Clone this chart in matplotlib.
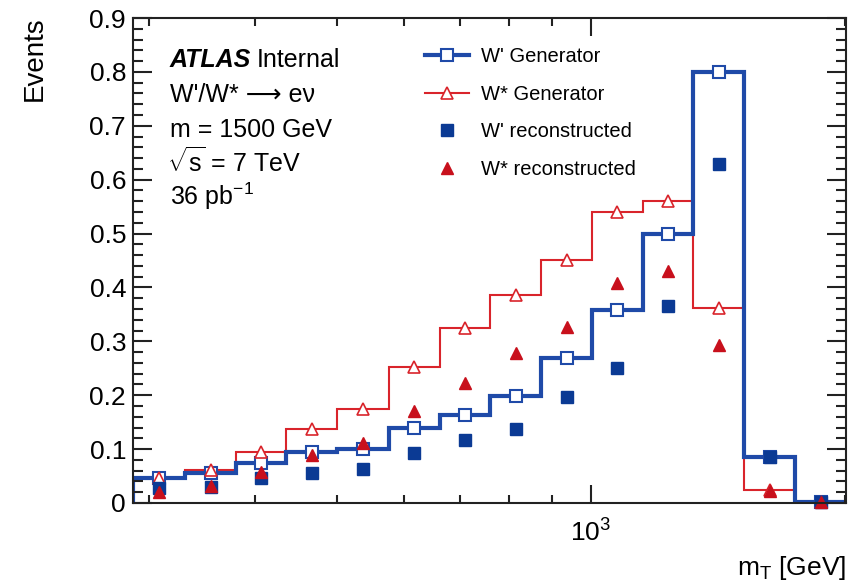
import numpy as np
import matplotlib
matplotlib.use("Agg")
from matplotlib import pyplot as plt
from matplotlib.lines import Line2D

plt.rcParams['font.family'] = ['Liberation Sans', 'DejaVu Sans']
plt.rcParams['mathtext.fontset'] = 'custom'
plt.rcParams['mathtext.rm'] = 'Liberation Sans'
plt.rcParams['mathtext.it'] = 'Liberation Sans:italic'
plt.rcParams['mathtext.bf'] = 'Liberation Sans:bold'

# bin edges in m_T [GeV] (log spaced bins)
edges = [287, 331, 380, 436, 501, 576, 663, 760, 873, 1003, 1151, 1322, 1519, 1745, 2004]

wprime_gen = [0.047, 0.055, 0.075, 0.094, 0.101, 0.140, 0.163, 0.199, 0.270, 0.358,
              0.500, 0.799, 0.086, 0.001]
wstar_gen = [0.046, 0.061, 0.094, 0.137, 0.174, 0.253, 0.325, 0.386, 0.451, 0.540,
             0.560, 0.361, 0.025, 0.002]
wprime_reco = [0.027, 0.030, 0.047, 0.056, 0.063, 0.092, 0.116, 0.137, 0.197, 0.251,
               0.365, 0.630, 0.086, 0.002]
wstar_reco = [0.021, 0.032, 0.057, 0.089, 0.111, 0.170, 0.223, 0.279, 0.327, 0.408,
              0.431, 0.293, 0.022, 0.001]

blue = '#1f4aa8'
blue_dark = '#0b3a94'
red = '#d9242b'
red_dark = '#c8101c'

fig = plt.figure(figsize=(8.62, 5.88), dpi=100)
ax = fig.add_axes([133/862, 85/588, 713/862, 485/588])

edges_a = np.array(edges, dtype=float)
centers = np.sqrt(edges_a[:-1] * edges_a[1:])

ax.stairs(wstar_gen, edges_a, color=red, lw=1.5, baseline=0)
ax.stairs(wprime_gen, edges_a, color=blue, lw=3, baseline=0)

ax.plot(centers, wprime_gen, ls='none', marker='s', ms=9, mfc='white', mec=blue,
        mew=1.5, clip_on=False)
ax.plot(centers, wstar_gen, ls='none', marker='^', ms=9, mfc='white', mec=red,
        mew=1.2, clip_on=False)
ax.plot(centers, wprime_reco, ls='none', marker='s', ms=9, color=blue_dark, clip_on=False)
ax.plot(centers, wstar_reco, ls='none', marker='^', ms=8, color=red_dark, clip_on=False)

ax.set_xscale('log')
ax.set_xlim(edges_a[0], edges_a[-1])
ax.set_ylim(0, 0.9)
ax.set_yticks(np.arange(0, 0.91, 0.1))
ax.set_yticks(np.arange(0, 0.9, 0.02), minor=True)
ax.set_yticklabels(['0', '0.1', '0.2', '0.3', '0.4', '0.5', '0.6', '0.7', '0.8', '0.9'])
ax.xaxis.set_minor_formatter(matplotlib.ticker.NullFormatter())

ax.tick_params(which='both', direction='in', top=True, right=True, labelsize=19,
               width=1.5, color='#222222')
ax.tick_params(axis='y', which='major', length=14, pad=5)
ax.tick_params(axis='y', which='minor', length=7)
ax.tick_params(axis='x', which='major', length=13, pad=12)
ax.tick_params(axis='x', which='minor', length=6)
for s in ax.spines.values():
    s.set_linewidth(1.5)
    s.set_color('#222222')

fig.text(35/862, 1 - 16/588, 'Events', rotation=90, ha='center', va='top', fontsize=20)
fig.text(846/862, 6/588, r'm$_{\mathrm{T}}$ [GeV]', ha='right', va='bottom', fontsize=19)

tx = 170/862
t = fig.text(tx, 1 - 67/588, 'ATLAS', fontsize=18, va='baseline',
             fontweight='bold', fontstyle='italic')
fig.canvas.draw()
bb = t.get_window_extent()
fig.text((bb.x1 + 6) / 862, 1 - 67/588, 'Internal', fontsize=18, va='baseline')
fig.text(tx, 1 - 102/588, "W'/W* \u27f6 e\u03bd", fontsize=18, va='baseline')
fig.text(tx, 1 - 137/588, 'm = 1500 GeV', fontsize=18, va='baseline')
fig.text(tx - 3/862, 1 - 172/588, r'$\sqrt{\mathrm{s}}$ = 7 TeV', fontsize=18, va='baseline')
fig.text(tx, 1 - 205/588, r'36 pb$^{\mathrm{-1}}$', fontsize=18, va='baseline')

handles = [
    Line2D([], [], color=blue, lw=3, marker='s', ms=9, mfc='white', mec=blue, mew=1.5),
    Line2D([], [], color=red, lw=1.5, marker='^', ms=9, mfc='white', mec=red, mew=1.2),
    Line2D([], [], ls='none', marker='s', ms=9, color=blue_dark),
    Line2D([], [], ls='none', marker='^', ms=8, color=red_dark),
]
labels = ["W' Generator", "W* Generator", "W' reconstructed", "W* reconstructed"]
ax.legend(handles, labels, loc='upper left', bbox_to_anchor=(284/713, 1 - 21/485),
          frameon=False, fontsize=14.5, handlelength=2.2, labelspacing=0.92,
          handletextpad=0.6, borderaxespad=0)

fig.savefig('out.png', dpi=100)
